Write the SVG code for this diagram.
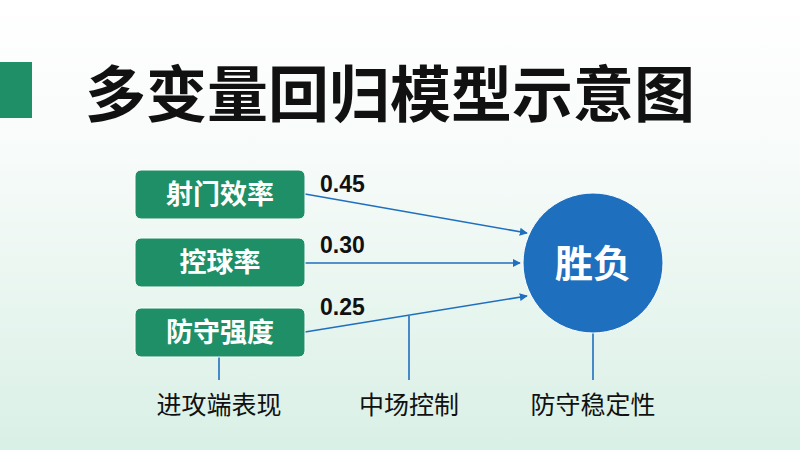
<svg xmlns="http://www.w3.org/2000/svg" width="800" height="450" viewBox="0 0 800 450">
<defs>
<linearGradient id="bg" x1="0" y1="0" x2="0" y2="1"><stop offset="0" stop-color="#ffffff"/><stop offset="0.35" stop-color="#f7fbf9"/><stop offset="1" stop-color="#d9f0e6"/></linearGradient>
<marker id="ah" viewBox="0 0 10 10" refX="9" refY="5" markerWidth="8" markerHeight="8" orient="auto" markerUnits="userSpaceOnUse"><path d="M0,0 L10,5 L0,10 z" fill="#1f6fbf"/></marker>
<style>
.box{fill:#1e8f67;stroke:#ffffff;stroke-width:1}
.bt{font-family:"Noto Sans CJK SC",sans-serif;font-weight:bold;font-size:27px;fill:#fff;text-anchor:middle}
.num{font-family:"Liberation Sans",sans-serif;font-weight:bold;font-size:23px;fill:#111}
.lab{font-family:"Noto Sans CJK SC",sans-serif;font-size:25px;fill:#111;text-anchor:middle}
.ln{stroke:#1f6fbf;stroke-width:1.6;fill:none}
</style>
</defs>
<rect width="800" height="450" fill="url(#bg)"/>
<rect x="0" y="62" width="32" height="56" fill="#1e8f67"/>
<text x="390" y="117" text-anchor="middle" font-family="Noto Sans CJK SC,sans-serif" font-weight="bold" font-size="61" fill="#111">多变量回归模型示意图</text>
<g id="connectors">
<line class="ln" x1="305" y1="194" x2="527" y2="233" marker-end="url(#ah)"/>
<line class="ln" x1="305" y1="263" x2="520" y2="263" marker-end="url(#ah)"/>
<line class="ln" x1="305" y1="332" x2="527" y2="296" marker-end="url(#ah)"/>
<line class="ln" x1="219" y1="357" x2="219" y2="380"/>
<line class="ln" x1="409" y1="316" x2="409" y2="380"/>
<line class="ln" x1="593" y1="333" x2="593" y2="380"/>
</g>
<text class="num" x="320" y="192">0.45</text>
<text class="num" x="320" y="253">0.30</text>
<text class="num" x="320" y="315">0.25</text>
<g id="n1"><rect class="box" x="135" y="170" width="170" height="49" rx="6"/><text class="bt" x="220" y="204">射门效率</text></g>
<g id="n2"><rect class="box" x="135" y="238" width="170" height="49" rx="6"/><text class="bt" x="220" y="272">控球率</text></g>
<g id="n3"><rect class="box" x="135" y="308" width="170" height="49" rx="6"/><text class="bt" x="220" y="342">防守强度</text></g>
<g id="n4"><ellipse cx="593" cy="263" rx="70" ry="70" fill="#1f6fbf" stroke="#fff" stroke-width="1"/><text x="593" y="277" text-anchor="middle" font-family="Noto Sans CJK SC,sans-serif" font-weight="bold" font-size="38" fill="#fff">胜负</text></g>
<text class="lab" x="219" y="414">进攻端表现</text>
<text class="lab" x="409" y="414">中场控制</text>
<text class="lab" x="593" y="414">防守稳定性</text>
</svg>
